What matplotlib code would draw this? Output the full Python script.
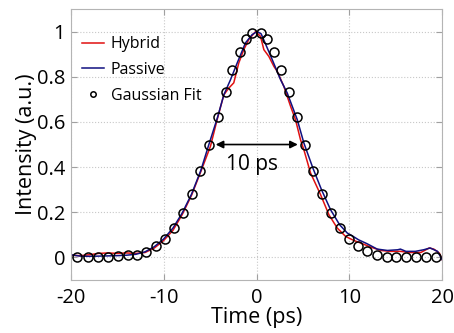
import matplotlib.pyplot as plt

plt.rcParams['font.family'] = ['Open Sans', 'DejaVu Sans']
plt.rcParams['axes.unicode_minus'] = False

# passive trace
t_passive = [-20, -19, -18, -17, -16, -15, -14, -13, -12, -11, -10, -9, -8, -7, -6,
             -5.14, -4.2, -3.52, -2.8, -2.08, -1.19, -0.46, 0.07, 0.5, 1.15, 1.69,
             2.59, 3.31, 4.39, 5.1, 6.07, 7.0, 7.98, 8.95, 9.78, 10.3, 11.0, 11.9,
             13.0, 14.1, 15.2, 15.5, 16.1, 17.1, 18.0, 18.7, 19.5, 20]
i_passive = [0.012, 0.006, 0.005, 0.006, 0.007, 0.008, 0.01, 0.014, 0.025, 0.048,
             0.082, 0.13, 0.197, 0.28, 0.385, 0.499, 0.62, 0.72, 0.787, 0.861, 0.95,
             0.987, 1.0, 0.99, 0.928, 0.876, 0.787, 0.728, 0.61, 0.507, 0.396, 0.3,
             0.211, 0.145, 0.108, 0.096, 0.078, 0.061, 0.037, 0.031, 0.034, 0.037,
             0.027, 0.027, 0.034, 0.042, 0.027, -0.01]

# hybrid trace
t_hybrid = [-20, -19, -18, -17, -16, -15, -14, -13, -12, -11, -10, -9, -8, -7, -6,
            -4.96, -4.24, -3.52, -2.98, -2.45, -1.91, -1.37, -0.83, -0.1, 0.43, 0.79,
            1.33, 1.87, 2.23, 2.94, 3.67, 4.2, 4.74, 5.1, 5.82, 6.9, 7.8, 8.7, 9.6,
            10.5, 11.4, 12.3, 13.4, 14.4, 15.5, 16.6, 17.7, 18.6, 19.1, 19.7, 20]
i_hybrid = [0.01, 0.008, 0.012, 0.018, 0.02, 0.018, 0.02, 0.018, 0.022, 0.042, 0.075,
            0.12, 0.19, 0.275, 0.38, 0.492, 0.61, 0.72, 0.75, 0.773, 0.861, 0.92,
            0.965, 1.0, 0.979, 0.92, 0.89, 0.846, 0.824, 0.758, 0.669, 0.61, 0.521,
            0.477, 0.374, 0.278, 0.189, 0.13, 0.093, 0.075, 0.061, 0.046, 0.031,
            0.027, 0.027, 0.022, 0.022, 0.042, 0.037, 0.019, -0.01]

# gaussian fit points
t_fit = [-19.33, -18.19, -17.11, -16.03, -14.91, -13.88, -12.91, -11.89, -10.85,
         -9.87, -8.88, -7.91, -6.93, -6.04, -5.14, -4.20, -3.34, -2.62, -1.83, -1.11,
         -0.5, 0.5, 1.15, 1.87, 2.66, 3.52, 4.35, 5.21, 6.07, 7.01, 7.98, 8.95, 9.95,
         10.89, 11.94, 12.97, 14.02, 15.06, 16.14, 17.17, 18.25, 19.30]
i_fit = [0.002, 0.002, 0.002, 0.004, 0.008, 0.01, 0.013, 0.026, 0.05, 0.083, 0.13,
         0.197, 0.282, 0.384, 0.499, 0.62, 0.733, 0.832, 0.91, 0.968, 0.992, 0.994,
         0.968, 0.911, 0.832, 0.733, 0.62, 0.499, 0.384, 0.282, 0.197, 0.13, 0.083,
         0.049, 0.027, 0.012, 0.004, 0.002, 0.0, 0.0, 0.0, 0.0]

fwhm_start, fwhm_end, fwhm_level = -4.4, 4.45, 0.5
fwhm_label = "10 ps"

fig = plt.figure(figsize=(4.54, 3.33), dpi=100)
ax = fig.add_axes([0.156, 0.159, 0.818, 0.814])

ax.plot(t_hybrid, i_hybrid, color='#e01010', lw=1.1, label='Hybrid')
ax.plot(t_passive, i_passive, color='#101080', lw=1.1, label='Passive')
ax.plot(t_fit, i_fit, 'o', mfc='none', mec='black', ms=6.5, mew=1.1,
        label='Gaussian Fit')

ax.annotate('', xy=(fwhm_start, fwhm_level), xytext=(fwhm_end, fwhm_level),
            arrowprops=dict(arrowstyle='<|-|>', color='black', lw=1.2,
                            mutation_scale=11, shrinkA=0, shrinkB=0))
ax.text(-0.5, 0.41, fwhm_label, ha='center', va='center', fontsize=15)

ax.set_xlim(-20, 20)
ax.set_ylim(-0.1, 1.1)
ax.set_xticks([-20, -10, 0, 10, 20])
ax.set_yticks([0, 0.2, 0.4, 0.6, 0.8, 1])
ax.set_yticklabels(['0', '0.2', '0.4', '0.6', '0.8', '1'])
ax.grid(True, ls=':', color='#c8c8c8', lw=0.8)
ax.tick_params(direction='in', length=4, color='#a0a0a0', labelsize=14.5,
               top=True, right=True, pad=4)
ax.tick_params(axis='x', pad=6)
for s in ax.spines.values():
    s.set_color('#b4b4b4')
    s.set_linewidth(0.8)

ax.set_xlabel('Time (ps)', fontsize=15.5, labelpad=-1)
ax.set_ylabel('Intensity (a.u.)', fontsize=15.5, labelpad=0)

ax.legend(loc='upper left', frameon=False, fontsize=11.5, handlelength=1.4,
          handletextpad=0.4, labelspacing=0.6, markerscale=0.6,
          borderaxespad=0.3, bbox_to_anchor=(0.0, 0.94))

fig.savefig('out.png', dpi=100)
